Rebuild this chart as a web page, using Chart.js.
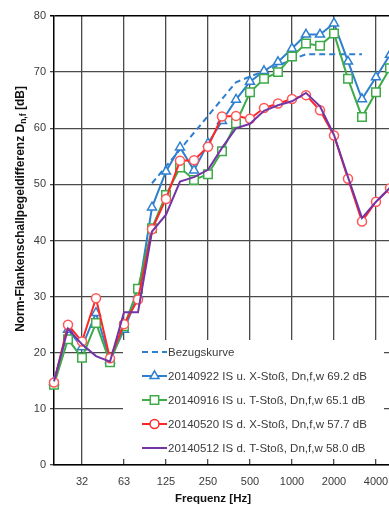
<!DOCTYPE html>
<html>
<head>
<meta charset="utf-8">
<script src="https://cdn.jsdelivr.net/npm/chart.js@4/dist/chart.umd.min.js"></script>
<style>
  html, body { margin: 0; padding: 0; background: #fff; overflow: hidden; }
  #wrap { width: 389px; height: 510px; position: relative; overflow: hidden; }
</style>
</head>
<body>
<div id="wrap"><canvas id="chart" width="400" height="510"></canvas></div>
<script>
// Terzbaender 20 Hz .. 5000 Hz
const bands = ['20', '25', '31.5', '40', '50', '63', '80', '100', '125', '160', '200', '250', '315',
  '400', '500', '630', '800', '1000', '1250', '1600', '2000', '2500', '3150', '4000', '5000'];
const tickLabels = ['', '', '32', '', '', '63', '', '', '125', '', '', '250', '',
  '', '500', '', '', '1000', '', '', '2000', '', '', '4000', ''];

// Bezugskurve (verschoben)
const bezug = [null, null, null, null, null, null, null, 50.2, 53.2, 56.2, 59.2, 62.2, 65.2,
  68.2, 69.2, 70.2, 71.2, 72.2, 73.2, 73.2, 73.2, 73.2, 73.2, null, null];
const m0922 = [14.8, 24.1, 21.0, 27.1, 18.7, 24.1, 30.3, 45.9, 52.3, 56.6, 52.5, 57.3, 61.3,
  65.1, 68.3, 70.2, 71.8, 74.2, 76.7, 76.7, 78.7, 71.9, 65.2, 69.1, 73.1];
const m0916 = [14.3, 22.4, 19.1, 25.3, 18.3, 24.7, 31.4, 42.2, 48.1, 53.0, 50.8, 51.8, 55.9,
  60.9, 66.4, 68.8, 70.0, 72.8, 75.1, 74.7, 76.9, 68.8, 62.0, 66.4, 70.7];
const m0520 = [14.7, 25.0, 22.0, 29.7, 19.0, 25.1, 29.5, 42.0, 47.4, 54.2, 54.3, 56.7, 62.1,
  62.2, 61.7, 63.6, 64.4, 65.2, 65.9, 63.2, 58.7, 51.0, 43.4, 46.9, 49.3];
const m0512 = [14.9, 24.3, 21.5, 19.4, 18.4, 27.2, 27.2, 41.6, 44.6, 50.5, 51.3, 52.6, 56.5,
  60.0, 60.8, 63.1, 64.1, 64.8, 66.3, 63.9, 58.8, 51.3, 44.0, 46.9, 49.4];

const seriesLabels = [
  'Bezugskurve',
  '20140922 IS u. X-Stoß, Dn,f,w 69.2 dB',
  '20140916 IS u. T-Stoß, Dn,f,w 65.1 dB',
  '20140520 IS d. X-Stoß, Dn,f,w 57.7 dB',
  '20140512 IS d. T-Stoß, Dn,f,w 58.0 dB'
];

const BLUE = '#2f7fcf';
const GREEN = '#3dab48';
const RED = '#ff2626';
const PURPLE = '#7434a4';
const TXT = '#3a3a3a';

// marker helper for the legend
function marker(ctx, style, x, y, color) {
  ctx.save();
  ctx.fillStyle = '#fff';
  ctx.strokeStyle = color;
  ctx.lineWidth = 1.5;
  ctx.beginPath();
  if (style === 'circle') {
    ctx.arc(x, y, 4.5, 0, Math.PI * 2);
  } else if (style === 'rect') {
    ctx.rect(x - 4.2, y - 4.2, 8.4, 8.4);
  } else if (style === 'triangle') {
    const r = 5.2;
    ctx.moveTo(x, y - r);
    ctx.lineTo(x + r * 0.866, y + r * 0.5);
    ctx.lineTo(x - r * 0.866, y + r * 0.5);
    ctx.closePath();
  }
  ctx.fill();
  ctx.stroke();
  ctx.restore();
}

const legendBg = {
  id: 'legendBg',
  beforeDatasetsDraw(chart) {
    const ctx = chart.ctx;
    ctx.save();
    ctx.fillStyle = '#fff';
    ctx.fillRect(123, 340, 261, 119);
    ctx.restore();
  }
};

const extras = {
  id: 'extras',
  afterDraw(chart) {
    const ctx = chart.ctx;
    ctx.save();

    // legend
    const rows = [
      { color: BLUE, dash: [6, 4], style: null },
      { color: BLUE, dash: [], style: 'triangle' },
      { color: GREEN, dash: [], style: 'rect' },
      { color: RED, dash: [], style: 'circle' },
      { color: PURPLE, dash: [], style: null }
    ];
    const rowY = [352, 376, 400, 424, 448];
    rows.forEach((r, i) => {
      const y = rowY[i];
      ctx.save();
      ctx.strokeStyle = r.color;
      ctx.lineWidth = 2;
      ctx.setLineDash(r.dash);
      ctx.beginPath();
      ctx.moveTo(142, y);
      ctx.lineTo(167, y);
      ctx.stroke();
      ctx.restore();
      if (r.style) marker(ctx, r.style, 154.5, y, r.color);
      ctx.fillStyle = TXT;
      ctx.font = '11.5px "Liberation Sans", Arial, sans-serif';
      ctx.textAlign = 'left';
      ctx.textBaseline = 'middle';
      ctx.fillText(seriesLabels[i], 168, y + 0.5);
    });

    // x title
    ctx.fillStyle = '#111';
    ctx.font = 'bold 11.5px "Liberation Sans", Arial, sans-serif';
    ctx.textAlign = 'center';
    ctx.textBaseline = 'middle';
    ctx.fillText('Frequenz [Hz]', 213, 499);

    // y title with subscript
    ctx.translate(21, 209);
    ctx.rotate(-Math.PI / 2);
    const big = 'bold 12px "Liberation Sans", Arial, sans-serif';
    const small = 'bold 8.5px "Liberation Sans", Arial, sans-serif';
    const p1 = 'Norm-Flankenschallpegeldifferenz D';
    const p2 = 'n,f';
    const p3 = ' [dB]';
    ctx.font = big;
    const w1 = ctx.measureText(p1).width;
    const w3 = ctx.measureText(p3).width;
    ctx.font = small;
    const w2 = ctx.measureText(p2).width;
    let x = -(w1 + w2 + w3) / 2;
    ctx.textAlign = 'left';
    ctx.textBaseline = 'middle';
    ctx.font = big;
    ctx.fillText(p1, x, 0);
    x += w1;
    ctx.font = small;
    ctx.fillText(p2, x, 3);
    x += w2;
    ctx.font = big;
    ctx.fillText(p3, x, 0);
    ctx.restore();
  }
};

new Chart(document.getElementById('chart'), {
  type: 'line',
  data: {
    labels: bands,
    datasets: [
      {
        label: seriesLabels[0], data: bezug, borderColor: BLUE, borderWidth: 2,
        borderDash: [6, 4], pointRadius: 0, fill: false, order: 5
      },
      {
        label: seriesLabels[1], data: m0922, borderColor: BLUE, borderWidth: 2,
        pointStyle: 'triangle', pointRadius: 5.2, pointBorderWidth: 1.5,
        pointBackgroundColor: '#fff', pointBorderColor: BLUE, order: 4
      },
      {
        label: seriesLabels[2], data: m0916, borderColor: GREEN, borderWidth: 2,
        pointStyle: 'rect', pointRadius: 6, pointBorderWidth: 1.5,
        pointBackgroundColor: '#fff', pointBorderColor: GREEN, order: 3
      },
      {
        label: seriesLabels[3], data: m0520, borderColor: RED, borderWidth: 2,
        pointStyle: 'circle', pointRadius: 4.5, pointBorderWidth: 1.5,
        pointBackgroundColor: '#fff', pointBorderColor: '#ff5555', order: 2
      },
      {
        label: seriesLabels[4], data: m0512, borderColor: PURPLE, borderWidth: 2,
        pointRadius: 0, order: 1
      }
    ]
  },
  options: {
    responsive: false,
    animation: false,
    devicePixelRatio: 1,
    layout: { padding: { top: 16, right: 1, left: 0, bottom: 0 } },
    plugins: {
      legend: { display: false },
      tooltip: { enabled: false }
    },
    scales: {
      x: {
        type: 'category',
        offset: false,
        border: { display: true, color: '#000', width: 1.5 },
        grid: {
          drawTicks: false,
          color: ctx => (ctx.index % 3 === 2 || ctx.index === 24) ? '#4a4a4a' : 'rgba(0,0,0,0)',
          lineWidth: 1.3
        },
        ticks: {
          autoSkip: false,
          maxRotation: 0,
          padding: 10,
          color: TXT,
          font: { family: '"Liberation Sans", Arial, sans-serif', size: 11 },
          callback: (v, i) => tickLabels[i]
        },
        afterFit: s => { s.height = 45; }
      },
      y: {
        min: 0,
        max: 80,
        border: { display: true, color: '#000', width: 1.5 },
        grid: {
          tickLength: 4,
          color: ctx => (ctx.tick && ctx.tick.value === 80) ? '#000' : '#4a4a4a',
          lineWidth: ctx => (ctx.tick && ctx.tick.value === 80) ? 1.5 : 1.3
        },
        ticks: {
          stepSize: 10,
          padding: 4,
          color: TXT,
          font: { family: '"Liberation Sans", Arial, sans-serif', size: 11 }
        },
        afterFit: s => { s.width = 54; }
      }
    }
  },
  plugins: [legendBg, extras]
});
</script>
</body>
</html>
